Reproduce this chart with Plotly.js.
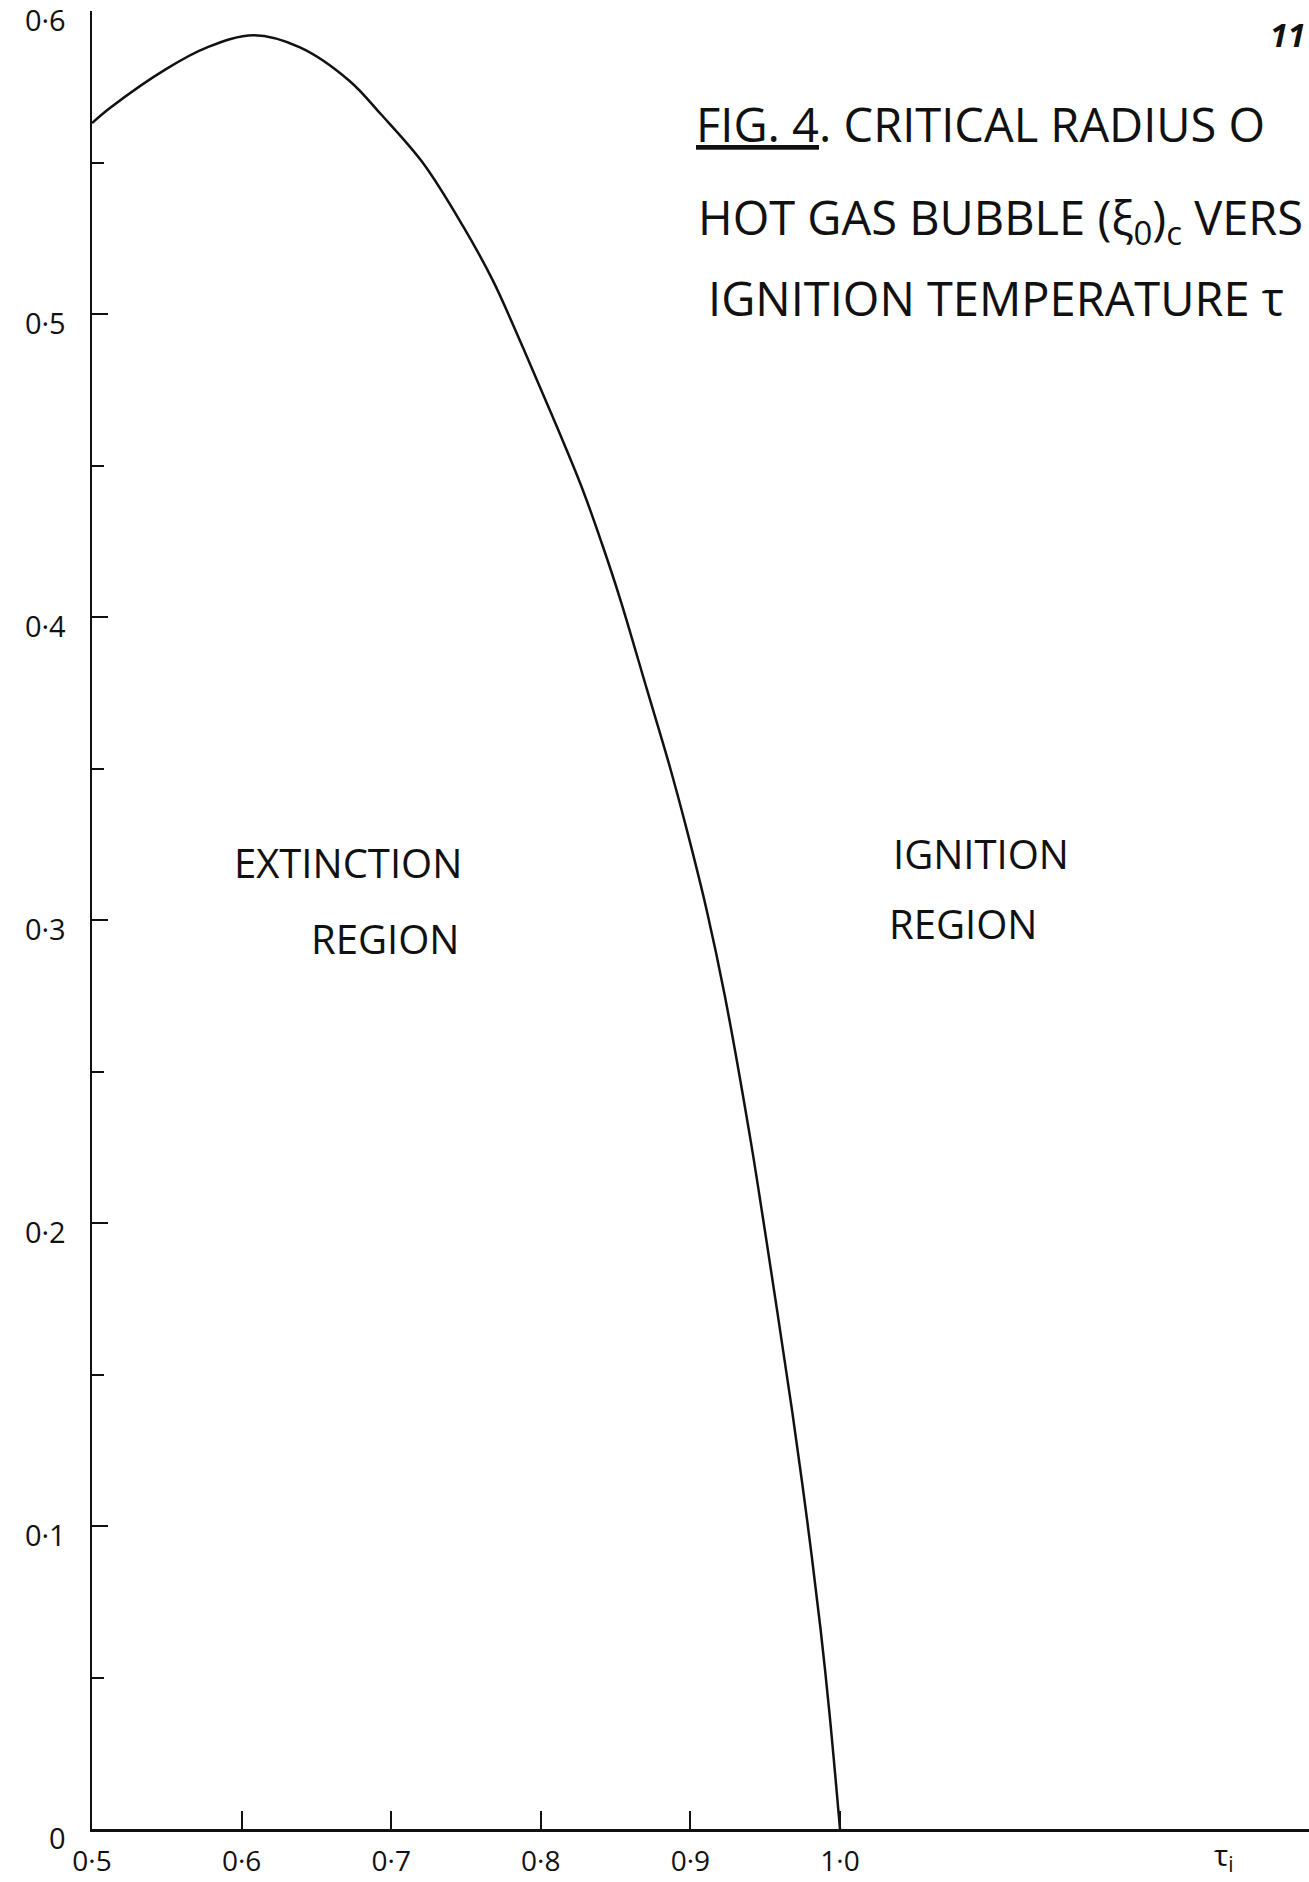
<!DOCTYPE html>
<html>
<head>
<meta charset="utf-8">
<script src="https://cdn.plot.ly/plotly-3.0.1.min.js"></script>
<style>html,body{margin:0;padding:0;background:#fff;}#chart{width:1309px;height:1882px;}</style>
</head>
<body>
<div id="chart"></div>
<script>
// Ignition temperature tau_i (x) and critical radius (xi_0)_c (y)
const tau = [0.500, 0.512, 0.550, 0.577, 0.608, 0.639, 0.672, 0.693, 0.721, 0.748, 0.768, 0.788, 0.808, 0.828, 0.841, 0.853, 0.871, 0.886, 0.898, 0.911, 0.923, 0.940, 0.949, 0.958, 0.968, 0.978, 0.987, 0.993, 1.000];
const xiC = [0.563, 0.568, 0.581, 0.588, 0.592, 0.588, 0.577, 0.566, 0.550, 0.529, 0.511, 0.489, 0.466, 0.442, 0.424, 0.406, 0.376, 0.351, 0.329, 0.303, 0.275, 0.228, 0.200, 0.171, 0.138, 0.102, 0.066, 0.038, 0.000];

const yTickVals = [0, 0.1, 0.2, 0.3, 0.4, 0.5, 0.6];
const yTickText = ['0', '0·1', '0·2', '0·3', '0·4', '0·5', '0·6'];
const yMinorVals = [0.05, 0.15, 0.25, 0.35, 0.45, 0.55];
const xTickVals = [0.5, 0.6, 0.7, 0.8, 0.9, 1.0];
const xTickText = ['0·5', '0·6', '0·7', '0·8', '0·9', '1·0'];

const titleLines = [
  '<u>FIG. 4</u>. CRITICAL RADIUS O',
  'HOT GAS BUBBLE (ξ<sub>0</sub>)<sub>c</sub> VERS',
  'IGNITION TEMPERATURE τ'
];
const regionLabels = ['EXTINCTION', 'REGION', 'IGNITION', 'REGION'];
const pageNumber = '11';
const xAxisLabel = 'τ<sub>i</sub>';

const FONT = 'Open Sans, DejaVu Sans, sans-serif';
const INK = '#111';

const trace = {
  x: tau, y: xiC, type: 'scatter', mode: 'lines',
  line: {color: INK, width: 2.5, shape: 'spline', smoothing: 1},
  hoverinfo: 'skip', showlegend: false
};

function txt(text, x, y, size, extra) {
  return Object.assign({text: text, x: x, y: y, showarrow: false,
    font: {family: FONT, size: size, color: INK}}, extra || {});
}
const paperLeft = {xref: 'paper', yref: 'paper', xanchor: 'left', yanchor: 'middle'};

const annotations = [
  txt(titleLines[0], 0.4947, 0.9378, 47, paperLeft),
  txt(titleLines[1], 0.4963, 0.885, 47, paperLeft),
  txt(titleLines[2], 0.5045, 0.842, 47, paperLeft),
  txt('<b><i>' + pageNumber + '</i></b>', 0.998, 0.987, 32, {xref: 'paper', yref: 'paper', xanchor: 'right', yanchor: 'middle'}),
  txt(regionLabels[0], 0.671, 0.319, 40),
  txt(regionLabels[1], 0.696, 0.294, 40),
  txt(regionLabels[2], 1.094, 0.322, 40),
  txt(regionLabels[3], 1.082, 0.299, 40),
  txt(xAxisLabel, 1.257, -0.015, 30, {xref: 'x', yref: 'paper', yanchor: 'middle'})
];

const layout = {
  width: 1309, height: 1882,
  margin: {l: 92, r: 0, t: 11, b: 53, pad: 0},
  paper_bgcolor: '#fff', plot_bgcolor: '#fff',
  font: {family: FONT, color: INK},
  showlegend: false,
  xaxis: {
    range: [0.5, 1.3135], showgrid: false, zeroline: false,
    showline: true, linecolor: INK, linewidth: 2.5,
    tickmode: 'array', tickvals: xTickVals, ticktext: xTickText,
    ticks: 'inside', ticklen: 18, tickwidth: 2, tickcolor: INK,
    ticklabelstandoff: 6, ticklabeloverflow: 'allow',
    tickfont: {family: FONT, size: 28, color: INK}
  },
  yaxis: {
    range: [0, 0.6], showgrid: false, zeroline: false,
    showline: true, linecolor: INK, linewidth: 2.5,
    tickmode: 'array', tickvals: yTickVals, ticktext: yTickText,
    ticks: 'inside', ticklen: 16, tickwidth: 2, tickcolor: INK,
    ticklabelstandoff: 18, ticklabelshift: 10, ticklabeloverflow: 'allow',
    tickfont: {family: FONT, size: 29, color: INK},
    minor: {tickmode: 'array', tickvals: yMinorVals, ticks: 'inside', ticklen: 12, tickwidth: 2, tickcolor: INK}
  },
  annotations: annotations
};

Plotly.newPlot('chart', [trace], layout, {displayModeBar: false, staticPlot: true});
</script>
</body>
</html>
